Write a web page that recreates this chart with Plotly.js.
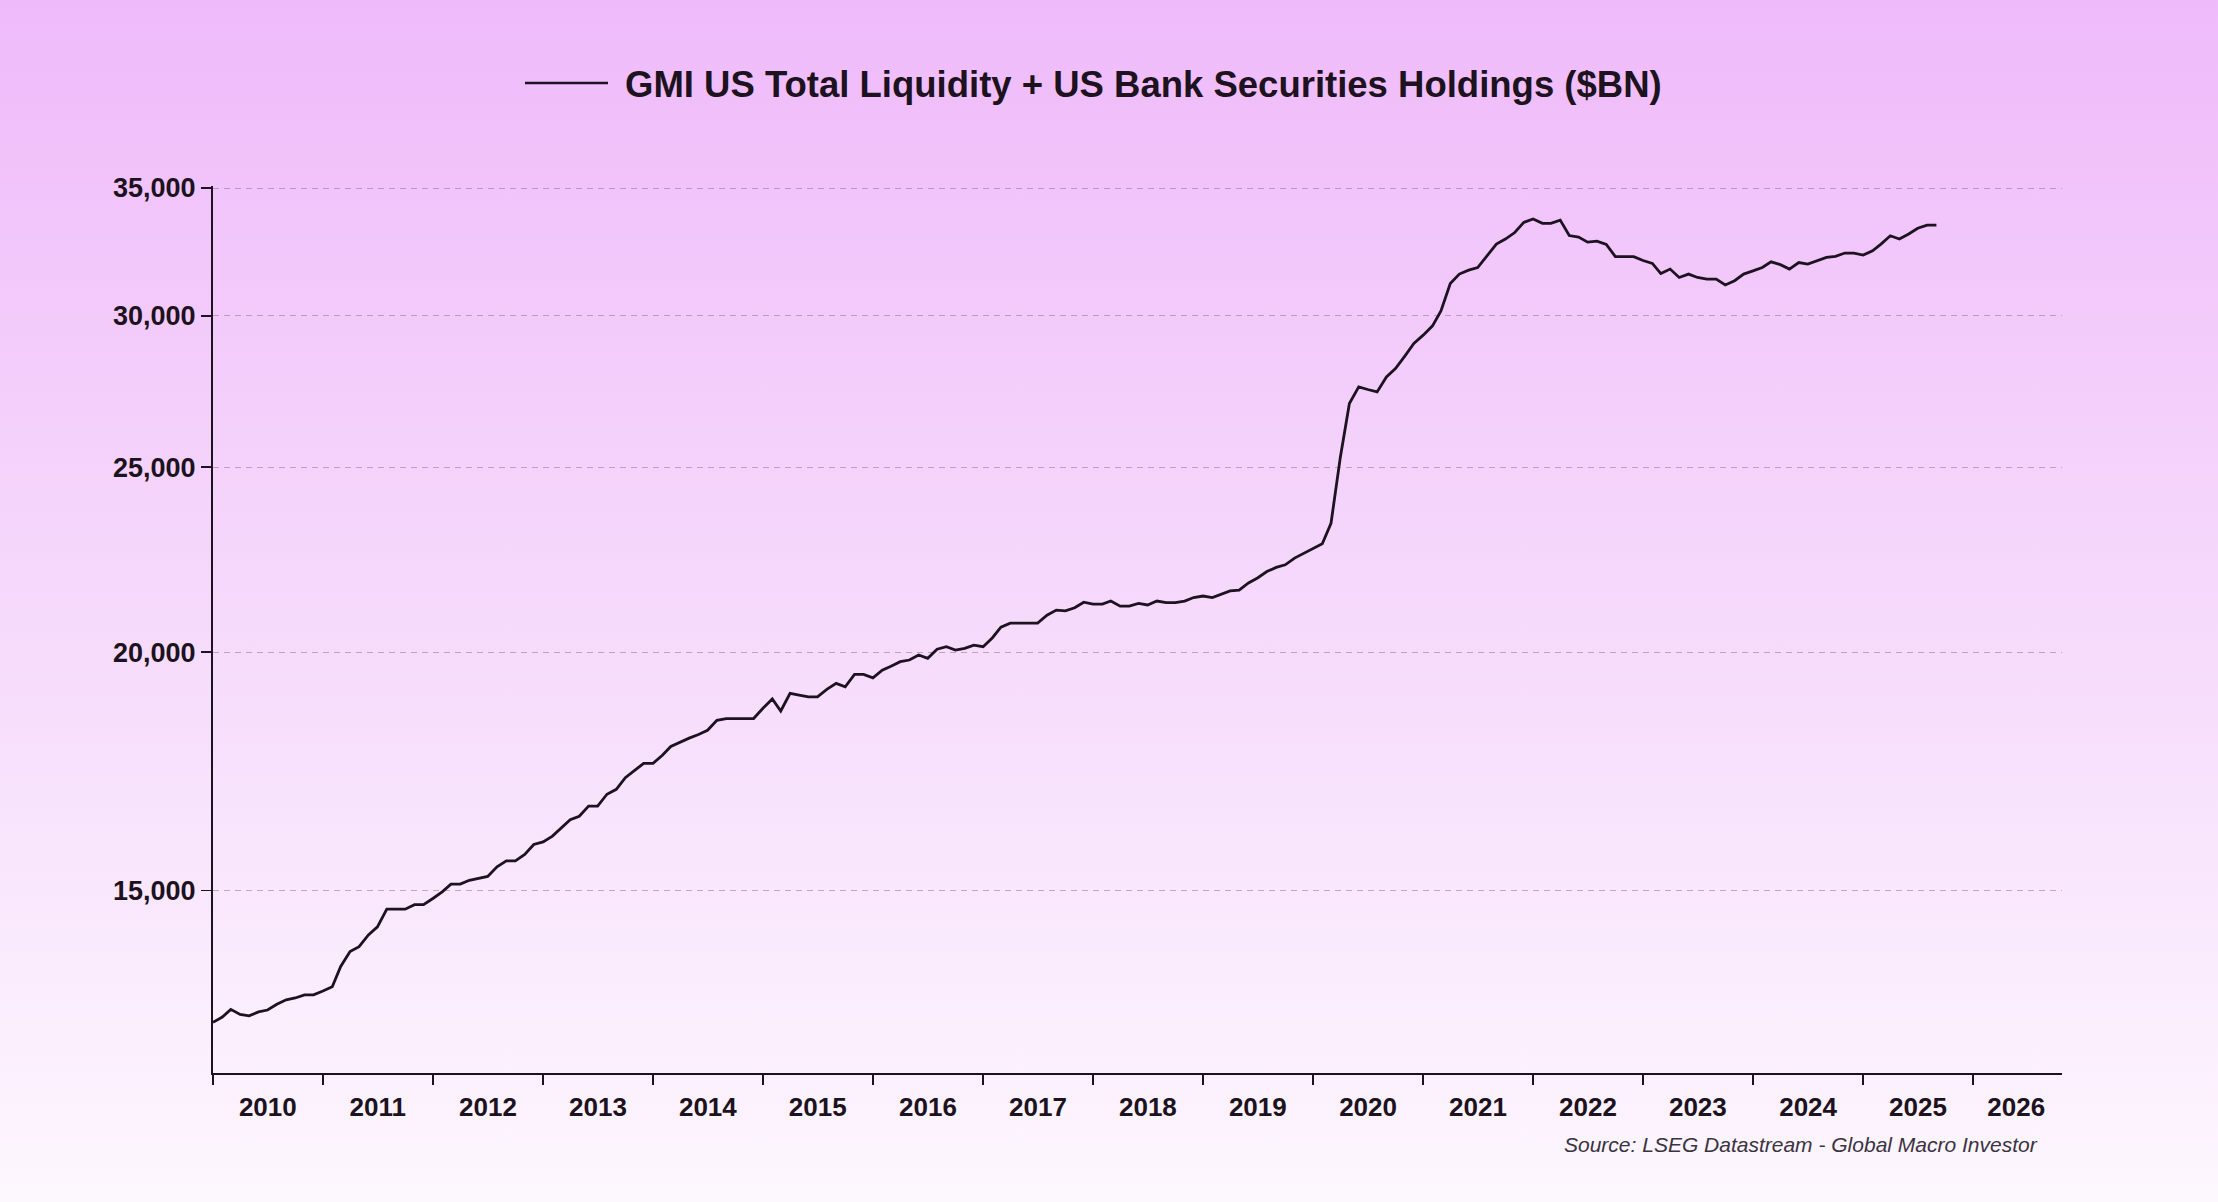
<!DOCTYPE html>
<html>
<head>
<meta charset="utf-8">
<script src="https://cdn.plot.ly/plotly-3.0.1.min.js"></script>
<style>
  html, body { margin: 0; padding: 0; width: 2218px; height: 1202px; overflow: hidden;
    background: linear-gradient(to bottom, #efbafa 0%, #f5d6fb 45%, #fdf7fe 100%); }
  #chart { width: 2218px; height: 1202px; }
</style>
</head>
<body>
<div id="chart"></div>
<script>
// Monthly values ($BN), first of each month
const y2010 = [12800, 12880, 13000, 12920, 12900, 12960, 12990, 13080, 13150, 13180, 13230, 13230];
const y2011 = [13290, 13360, 13690, 13940, 14020, 14220, 14360, 14670, 14670, 14670, 14750, 14750];
const y2012 = [14860, 14980, 15120, 15120, 15190, 15220, 15260, 15440, 15550, 15550, 15670, 15860];
const y2013 = [15910, 16020, 16170, 16340, 16410, 16610, 16610, 16850, 16950, 17190, 17340, 17490];
const y2014 = [17490, 17660, 17850, 17950, 18030, 18110, 18200, 18420, 18460, 18460, 18460, 18460];
const y2015 = [18690, 18900, 18630, 19030, 18990, 18950, 18950, 19120, 19260, 19180, 19470, 19470];
const y2016 = [19390, 19570, 19660, 19770, 19810, 19930, 19850, 20070, 20130, 20050, 20090, 20170];
const y2017 = [20130, 20350, 20610, 20710, 20710, 20710, 20710, 20910, 21040, 21020, 21100, 21240];
const y2018 = [21190, 21190, 21270, 21140, 21140, 21210, 21170, 21270, 21230, 21230, 21270, 21360];
const y2019 = [21400, 21360, 21440, 21530, 21550, 21740, 21870, 22040, 22150, 22220, 22400, 22530];
const y2020 = [22670, 22790, 23360, 25300, 26990, 27540, 27450, 27370, 27870, 28150, 28580, 29020];
const y2021 = [29310, 29640, 30180, 31190, 31550, 31700, 31800, 32250, 32710, 32910, 33170, 33580];
const y2022 = [33720, 33540, 33540, 33670, 33050, 32990, 32790, 32830, 32700, 32220, 32220, 32220];
const y2023 = [32070, 31960, 31570, 31740, 31420, 31550, 31420, 31360, 31360, 31140, 31300, 31550];
const y2024 = [31670, 31800, 32020, 31910, 31740, 31990, 31930, 32060, 32190, 32230, 32360, 32360];
const y2025 = [32280, 32450, 32710, 33040, 32910, 33110, 33340, 33470, 33470];

const years = [2010, 2011, 2012, 2013, 2014, 2015, 2016, 2017, 2018, 2019, 2020, 2021, 2022, 2023, 2024, 2025];
const seriesByYear = [y2010, y2011, y2012, y2013, y2014, y2015, y2016, y2017, y2018, y2019, y2020, y2021, y2022, y2023, y2024, y2025];

const yTickVals = [15000, 20000, 25000, 30000, 35000];
const yTickText = ['15,000', '20,000', '25,000', '30,000', '35,000'];
const xLabelYears = ['2010','2011','2012','2013','2014','2015','2016','2017','2018','2019','2020','2021','2022','2023','2024','2025','2026'];
const xLabelPos = ['2010-07-02','2011-07-02','2012-07-02','2013-07-02','2014-07-02','2015-07-02','2016-07-02','2017-07-02','2018-07-02','2019-07-02','2020-07-02','2021-07-02','2022-07-02','2023-07-02','2024-07-02','2025-07-02','2026-05-24'];
const yearStarts = ['2010-01-01','2011-01-01','2012-01-01','2013-01-01','2014-01-01','2015-01-01','2016-01-01','2017-01-01','2018-01-01','2019-01-01','2020-01-01','2021-01-01','2022-01-01','2023-01-01','2024-01-01','2025-01-01','2026-01-01'];

const seriesName = 'GMI US Total Liquidity + US Bank Securities Holdings ($BN)';
const sourceText = 'Source: LSEG Datastream - Global Macro Investor';

const dates = [];
const values = [];
years.forEach((yr, k) => {
  seriesByYear[k].forEach((v, m) => {
    dates.push(yr + '-' + String(m + 1).padStart(2, '0') + '-01');
    values.push(v);
  });
});

const ink = '#1c1220';
const fam = '"Liberation Sans", Arial, sans-serif';

const trace = {
  x: dates, y: values, type: 'scatter', mode: 'lines',
  name: seriesName,
  line: { color: ink, width: 2.8 },
  showlegend: false
};

// plot area: left 213, right 2062, top ~186, bottom 1073
const padTop = 2; // px above the 35,000 tick so its gridline is drawn
const pxPerLog = 1907;
const W = 2218, H = 1202, L = 213, R = 156, B = 129, T = 188 - padTop;
const plotW = W - L - R, plotH = H - T - B;

const layout = {
  width: W, height: H,
  paper_bgcolor: 'rgba(0,0,0,0)',
  plot_bgcolor: 'rgba(0,0,0,0)',
  margin: { l: L, r: R, t: T, b: B },
  font: { family: fam, color: ink },
  xaxis: {
    type: 'date',
    range: ['2010-01-01', '2026-10-23'],
    tickmode: 'array', tickvals: xLabelPos, ticktext: xLabelYears,
    ticks: '', showgrid: false, zeroline: false,
    showline: true, linecolor: ink, linewidth: 2,
    tickfont: { family: fam, size: 26, weight: 'bold', color: ink },
    ticklabelstandoff: 10,
    minor: { tickmode: 'array', tickvals: yearStarts, ticks: 'outside', ticklen: 10, tickwidth: 1.5, tickcolor: ink, showgrid: false }
  },
  yaxis: {
    type: 'log',
    range: [Math.log10(12040), Math.log10(35000) + padTop / pxPerLog],
    tickmode: 'array', tickvals: yTickVals, ticktext: yTickText,
    ticks: 'outside', ticklen: 10, tickwidth: 1.5, tickcolor: ink,
    showline: true, linecolor: ink, linewidth: 2,
    showgrid: true, gridcolor: 'rgba(150,110,160,0.55)', gridwidth: 1, griddash: '6px,5px',
    zeroline: false,
    tickfont: { family: fam, size: 27, weight: 'bold', color: ink },
    ticklabelstandoff: 0
  },
  shapes: [
    { type: 'line', xref: 'paper', yref: 'paper',
      x0: (525 - L) / plotW, x1: (608 - L) / plotW,
      y0: (H - B - 83) / plotH, y1: (H - B - 83) / plotH,
      line: { color: ink, width: 2.5 } }
  ],
  annotations: [
    { text: seriesName, xref: 'paper', yref: 'paper',
      x: (623 - L) / plotW, y: (H - B - 84) / plotH,
      xanchor: 'left', yanchor: 'middle', showarrow: false,
      font: { family: fam, size: 36.5, weight: 'bold', color: ink } },
    { text: sourceText, xref: 'paper', yref: 'paper',
      x: (2040 - L) / plotW, y: (H - B - 1144) / plotH,
      xanchor: 'right', yanchor: 'middle', showarrow: false,
      font: { family: fam, size: 21, style: 'italic', color: '#3a3340' } }
  ]
};

Plotly.newPlot('chart', [trace], layout, { displayModeBar: false, staticPlot: true });
</script>
</body>
</html>
